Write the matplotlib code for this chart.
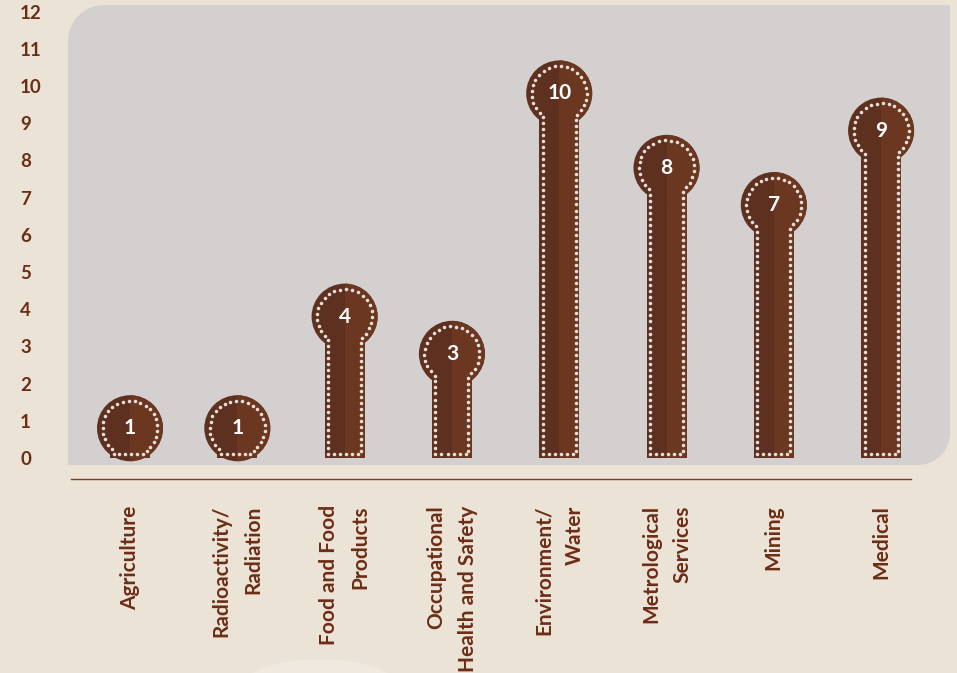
import numpy as np
import matplotlib
matplotlib.use('Agg')
import matplotlib.pyplot as plt
from matplotlib.patches import Ellipse, PathPatch, Rectangle
from matplotlib.path import Path
from matplotlib.lines import Line2D

categories = ["Agriculture", "Radioactivity/\nRadiation", "Food and Food\nProducts",
              "Occupational\nHealth and Safety", "Environment/\nWater",
              "Metrological\nServices", "Mining", "Medical"]
values = [1, 1, 4, 3, 10, 8, 7, 9]
y_ticks = list(range(0, 13))
y_tick_labels = [str(v) for v in y_ticks]

BG = '#ece3d7'
PANEL = '#d4d0cf'
DARK = '#5e301f'
LIGHT = '#6b3720'
TEXT = '#6c2d15'
DOT = '#e8dfd9'
FONT = ['Lato', 'DejaVu Sans']

plt.rcParams['font.family'] = FONT

W, H = 957, 673
fig = plt.figure(figsize=(W / 100, H / 100), dpi=100, facecolor=BG)
ax_l, ax_r, ax_t, ax_b = 68, 950, 5, 465
ax = fig.add_axes([ax_l / W, 1 - ax_b / H, (ax_r - ax_l) / W, (ax_b - ax_t) / H])
x0px, step, y0px, unit = 130, 107.3, 458, 37.2
ax.set_xlim(-(x0px - ax_l) / step, (ax_r - x0px) / step)
ax.set_ylim(-(ax_b - y0px) / unit, (y0px - ax_t) / unit)
ax.patch.set_visible(False)
for s in ax.spines.values():
    s.set_visible(False)

# faint background blob
fig.add_artist(Ellipse((320 / W, -12 / H), 150 / W, 50 / H, transform=fig.transFigure,
                       color='#f0e9e0', zorder=0))

# panel with two rounded corners (top-left, bottom-right)
pw, ph = ax_r - ax_l, ax_b - ax_t
rtl, rbr = 36, 32
k = 0.5523
verts = [(0, 0), (pw - rbr, 0),
         (pw - rbr + k * rbr, 0), (pw, rbr - k * rbr), (pw, rbr),
         (pw, ph), (rtl, ph),
         (rtl - k * rtl, ph), (0, ph - rtl + k * rtl), (0, ph - rtl),
         (0, 0), (0, 0)]
codes = [Path.MOVETO, Path.LINETO,
         Path.CURVE4, Path.CURVE4, Path.CURVE4,
         Path.LINETO, Path.LINETO,
         Path.CURVE4, Path.CURVE4, Path.CURVE4,
         Path.LINETO, Path.CLOSEPOLY]
verts = [(vx / pw, vy / ph) for vx, vy in verts]
ax.add_patch(PathPatch(Path(verts, codes), transform=ax.transAxes, facecolor=PANEL,
                       edgecolor='none', zorder=0, clip_on=False))

x = np.arange(len(categories))
offset = 0.2
centers = np.array(values, dtype=float) - offset
sx = ax.transData.transform((1, 0))[0] - ax.transData.transform((0, 0))[0]
sy = ax.transData.transform((0, 1))[1] - ax.transData.transform((0, 0))[1]
hw_px, R_px = 20, 33
hw = hw_px / sx

ax.bar(x - hw, centers, width=hw, align='edge', color=DARK, zorder=2, linewidth=0)
ax.bar(x, centers, width=hw, align='edge', color=LIGHT, zorder=2, linewidth=0)
for i, c in zip(x, centers):
    e1 = Ellipse((i, c), 2 * R_px / sx, 2 * R_px / sy, color=DARK, zorder=2, linewidth=0)
    ax.add_patch(e1)
    e2 = Ellipse((i, c), 2 * R_px / sx, 2 * R_px / sy, color=LIGHT, zorder=2, linewidth=0)
    ax.add_patch(e2)
    e2.set_clip_path(Rectangle((i, -5), 2, 30, transform=ax.transData))


def keyhole_dots(cx, cy, yb, dx, R, inset, spacing):
    yb_in = yb + inset
    dy = np.sqrt(max(R ** 2 - dx ** 2, 0))
    yj = cy - dy
    alpha = np.arcsin(dy / R)
    segs = []
    if yj > yb_in:
        segs.append(np.column_stack([np.full(50, cx - dx), np.linspace(yb_in, yj, 50)]))
    a = np.linspace(np.pi + alpha, -alpha, 400)
    segs.append(np.column_stack([cx + R * np.cos(a), cy + R * np.sin(a)]))
    if yj > yb_in:
        segs.append(np.column_stack([np.full(50, cx + dx), np.linspace(yj, yb_in, 50)]))
    segs.append(np.column_stack([np.linspace(cx + dx, cx - dx, 50), np.full(50, yb_in)]))
    p = np.vstack(segs)
    d = np.r_[0, np.cumsum(np.hypot(np.diff(p[:, 0]), np.diff(p[:, 1])))]
    n = max(int(round(d[-1] / spacing)), 1)
    t = np.linspace(0, d[-1], n, endpoint=False)
    return np.column_stack([np.interp(t, d, p[:, 0]), np.interp(t, d, p[:, 1])])


inv = ax.transData.inverted()
for i, c, v in zip(x, centers, values):
    cx, cy = ax.transData.transform((i, c))
    yb = ax.transData.transform((0, 0))[1]
    pts = keyhole_dots(cx, cy, yb, hw_px - 3.5, 27.5, 4, 6.0)
    dp = inv.transform(pts)
    ax.scatter(dp[:, 0], dp[:, 1], s=6.5, color=DOT, linewidths=0, zorder=3)
    ax.text(i, c, str(v), ha='center', va='center', color='white', fontsize=15,
            fontweight='bold', zorder=4)

ax.set_yticks(y_ticks, y_tick_labels)
ax.tick_params(axis='y', length=0, pad=34.5, labelsize=13.5, labelcolor=TEXT)
for t in ax.get_yticklabels():
    t.set_ha('left')
    t.set_fontweight('bold')

ax.set_xticks(x, categories, rotation=90, va='top', ha='center', multialignment='right',
              linespacing=1.7)
ax.tick_params(axis='x', length=0, pad=29, labelsize=15, labelcolor=TEXT)
for t in ax.get_xticklabels():
    t.set_fontweight('bold')

fig.add_artist(Line2D([71 / W, 911 / W], [1 - 479 / H] * 2, color='#7a3e22', lw=1,
                      transform=fig.transFigure))

fig.savefig('out.png', dpi=100, facecolor=BG)
